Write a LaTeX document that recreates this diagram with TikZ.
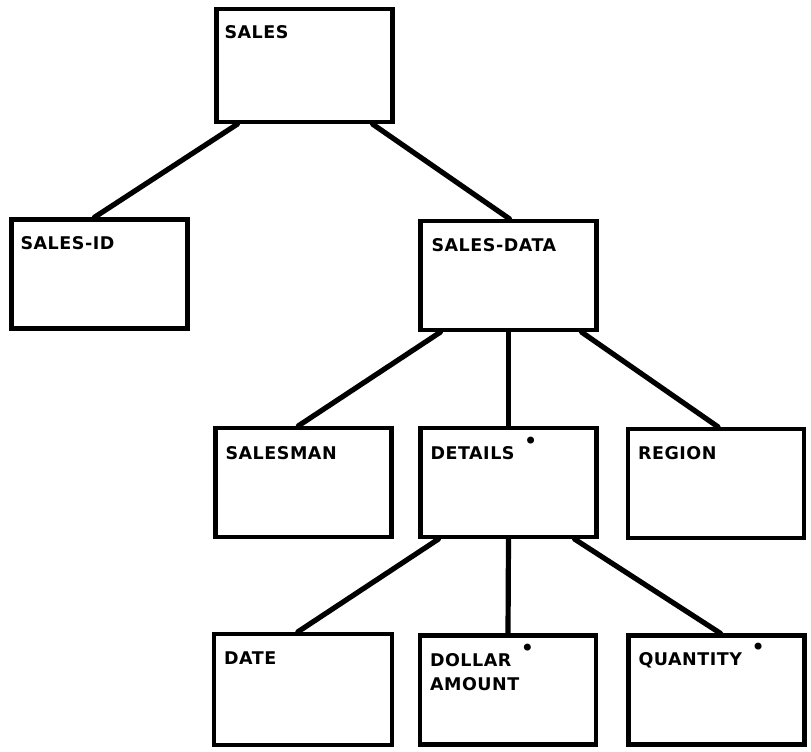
\documentclass[tikz,border=0pt]{standalone}
\usepackage{fontspec}
\setmainfont{DejaVu Sans}
\usetikzlibrary{calc}
% raised dot that flags a repeating field
\newcommand{\flagdot}{\hspace{9pt}\smash{\raisebox{10pt}{\normalfont\fontsize{24}{24}\selectfont •}}}
\begin{document}
\begin{tikzpicture}[x=1pt,y=-1pt,
  rec/.style={draw=black,line width=4.3pt,minimum width=176pt,minimum height=109pt,inner sep=0pt},
  lbl/.style={anchor=north west,inner sep=0pt,align=left,
    font=\fontsize{17.5}{24}\selectfont\bfseries\addfontfeatures{LetterSpace=3}},
  link/.style={line width=5.2pt,line cap=round}]
\useasboundingbox (0,0) rectangle (811,752);

% record boxes
\node[rec,minimum height=113pt] (sales)  at (304.5,65.5) {};
\node[rec] (salesid)  at (99.5,274) {};
\node[rec] (salesdata) at (508.5,275.5) {};
\node[rec] (salesman) at (303.5,482.5) {};
\node[rec] (details)  at (508.5,482.5) {};
\node[rec] (region)   at (716,483.5) {};
\node[rec,minimum width=178pt,minimum height=111pt] (date) at (303,689.5) {};
\node[rec] (dollar)   at (508,690) {};
\node[rec] (quantity) at (716.5,690) {};

% field names
\node[lbl] (tsales)    at ([shift={(10,18)}]sales.north west) {SALES};
\node[lbl] (tsalesid)  at ([shift={(11,19)}]salesid.north west) {SALES-ID};
\node[lbl] (tsalesdata) at ([shift={(13,19)}]salesdata.north west) {SALES-DATA};
\node[lbl] (tsalesman) at ([shift={(12,20)}]salesman.north west) {SALESMAN};
\node[lbl] (tdetails)  at ([shift={(12,20)}]details.north west) {DETAILS\flagdot};
\node[lbl] (tregion)   at ([shift={(12,19)}]region.north west) {REGION};
\node[lbl] (tdate)     at ([shift={(12,20)}]date.north west) {DATE};
\node[lbl] (tdollar)   at ([shift={(12,20)}]dollar.north west) {DOLLAR\flagdot\\AMOUNT};
\node[lbl] (tquantity) at ([shift={(12,19)}]quantity.north west) {QUANTITY\flagdot};

% hierarchy links
\draw[link] ([xshift=23pt]sales.south west) -- ([xshift=85pt]salesid.north west);
\draw[link] ([xshift=-22pt]sales.south east) -- ([xshift=1pt]salesdata.north);
\draw[link] ([xshift=22pt]salesdata.south west) -- ([xshift=85pt]salesman.north west);
\draw[link] (salesdata.south) -- (details.north);
\draw[link] ([xshift=-17pt]salesdata.south east) -- ([xshift=2pt]region.north);
\draw[link] ([xshift=20pt]details.south west) -- ([xshift=86pt]date.north west);
\draw[link] (details.south) -- (dollar.north);
\draw[link] ([xshift=-24pt]details.south east) -- ([xshift=4pt]quantity.north);
\end{tikzpicture}
\end{document}
